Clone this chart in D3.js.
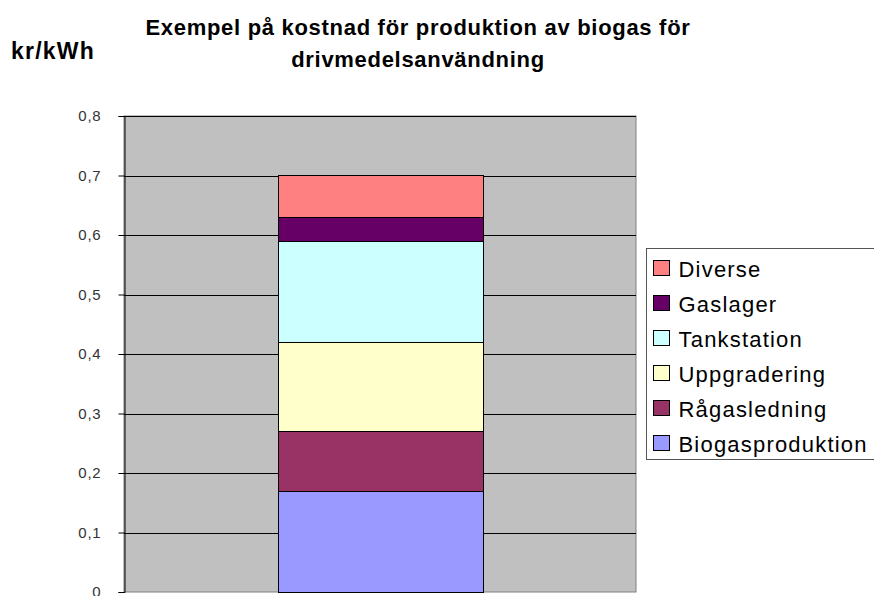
<!DOCTYPE html>
<html>
<head>
<meta charset="utf-8">
<script src="https://cdn.jsdelivr.net/npm/d3@7"></script>
<style>
    body { margin: 0; background: #ffffff; }
    svg { display: block; font-family: "Liberation Sans", Arial, sans-serif; }
</style>
</head>
<body>
<svg id="chart" width="874" height="596"></svg>
<script>

// Data (bottom to top)
const series = ["Biogasproduktion", "Rågasledning", "Uppgradering", "Tankstation", "Gaslager", "Diverse"];
const values = [0.17, 0.10, 0.15, 0.17, 0.04, 0.07];
const colors = ["#9999ff", "#993366", "#ffffcc", "#ccffff", "#660066", "#ff8080"];
const categories = ["Kostnad"];
const yTicks = [0, 0.1, 0.2, 0.3, 0.4, 0.5, 0.6, 0.7, 0.8];
const titleLines = ["Exempel på kostnad för produktion av biogas för", "drivmedelsanvändning"];
const unitLabel = "kr/kWh";

const svg = d3.select("#chart");

// Plot area
const margin = { top: 116, right: 238, bottom: 4, left: 124 };
const width = 874 - margin.left - margin.right;
const height = 596 - margin.top - margin.bottom;

const g = svg.append("g")
    .attr("transform", `translate(${margin.left},${margin.top})`);

// Scales
const x = d3.scaleBand()
    .domain(categories)
    .range([0, width])
    .paddingInner(0)
    .paddingOuter(0.75);

const y = d3.scaleLinear()
    .domain([0, 0.8])
    .range([height, 0]);

// Background
g.append("rect")
    .attr("width", width)
    .attr("height", height)
    .attr("fill", "#c0c0c0")
    .attr("stroke", "#808080")
    .attr("stroke-width", 1);

// Gridlines
g.append("g")
    .selectAll("line")
    .data(yTicks.filter(d => d > 0))
    .join("line")
    .attr("x1", 0)
    .attr("x2", width)
    .attr("y1", d => Math.round(y(d)) + 0.5)
    .attr("y2", d => Math.round(y(d)) + 0.5)
    .attr("stroke", "#000")
    .attr("stroke-width", 1);

// Stacked bar
const stacked = d3.stack().keys(series)([Object.fromEntries(series.map((s, i) => [s, values[i]]))]);

g.append("g")
    .selectAll("rect")
    .data(stacked)
    .join("rect")
    .attr("x", Math.round(x(categories[0])) + 0.5)
    .attr("width", Math.round(x.bandwidth()))
    .attr("y", d => Math.round(y(d[0][1])) + 0.5)
    .attr("height", d => Math.round(y(d[0][0])) - Math.round(y(d[0][1])))
    .attr("fill", (d, i) => colors[i])
    .attr("stroke", "#000")
    .attr("stroke-width", 1);

// Y axis
const yAxis = g.append("g")
    .attr("transform", "translate(0.5,0)")
    .attr("font-size", 15)
    .call(d3.axisLeft(y)
        .tickValues(yTicks)
        .tickSize(6)
        .tickPadding(17)
        .tickFormat(d => d3.format(".1f")(d).replace(".", ",").replace(/^0,0$/, "0")));

yAxis.attr("font-size", 15).attr("font-family", "'Liberation Sans', Arial, sans-serif");
yAxis.select(".domain").attr("stroke", "#000");
yAxis.selectAll(".tick line").attr("stroke", "#000");
yAxis.selectAll(".tick text")
    .attr("fill", "#333")
    .style("font-size", "15px")
    .attr("letter-spacing", "0.8px");

// Title
svg.append("text")
    .attr("text-anchor", "middle")
    .attr("font-size", 22)
    .attr("font-weight", "bold")
    .attr("letter-spacing", "0.7px")
    .selectAll("tspan")
    .data(titleLines)
    .join("tspan")
    .attr("x", 418)
    .attr("y", (d, i) => 35 + i * 32)
    .text(d => d);

// Unit label
svg.append("text")
    .attr("x", 11)
    .attr("y", 59)
    .attr("font-size", 23)
    .attr("font-weight", "bold")
    .attr("letter-spacing", "1.2px")
    .text(unitLabel);

// Legend
const legend = svg.append("g").attr("transform", "translate(646.5,248.5)");

legend.append("rect")
    .attr("width", 232)
    .attr("height", 211)
    .attr("fill", "#fff")
    .attr("stroke", "#555");

const legendItems = series.map((s, i) => ({ name: s, color: colors[i] })).reverse();

const item = legend.selectAll(".item")
    .data(legendItems)
    .join("g")
    .attr("class", "item")
    .attr("transform", (d, i) => `translate(7,${12 + i * 35})`);

item.append("rect")
    .attr("width", 16)
    .attr("height", 15)
    .attr("fill", d => d.color)
    .attr("stroke", "#000");

item.append("text")
    .attr("x", 25)
    .attr("y", 16)
    .attr("font-size", 22)
    .attr("letter-spacing", "1.2px")
    .attr("fill", "#000")
    .text(d => d.name);

</script>
</body>
</html>
